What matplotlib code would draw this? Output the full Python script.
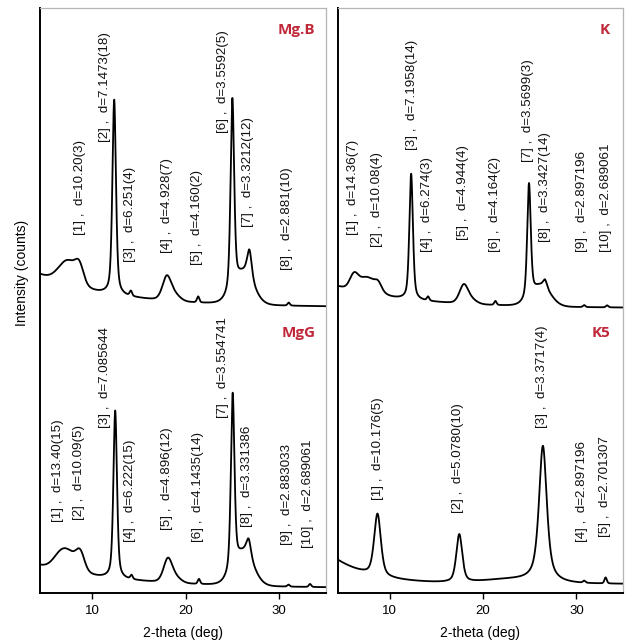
import numpy as np
import matplotlib
matplotlib.use("Agg")
import matplotlib.pyplot as plt

plt.rcParams['font.family'] = ['Liberation Sans', 'DejaVu Sans']

WAVELENGTH = 1.5406  # Cu K-alpha, angstrom

# ---- Mg.B -------------------------------------------------------------
mgb_d = ["10.20(3)", "7.1473(18)", "6.251(4)", "4.928(7)", "4.160(2)",
         "3.5592(5)", "3.3212(12)", "2.881(10)"]
mgb_height = [14, 195, 5, 23, 6, 191, 29, 3]
mgb_fwhm = [1.0, 0.45, 0.3, 1.1, 0.3, 0.45, 0.6, 0.3]
mgb_eta = [0.0, 0.5, 0.3, 0.3, 0.3, 0.5, 0.6, 0.3]
mgb_band_pos = [7.5, 18.8, 26.2]
mgb_band_height = [24, 6, 30]
mgb_band_fwhm = [2.4, 1.4, 2.4]
mgb_background = (286, 33, 8.0)
mgb_label_x = [8.73, 11.40, 14.08, 18.03, 21.24, 24.02, 26.70, 30.87]
mgb_label_y = [358, 451, 331, 340, 328, 460, 366, 323]

# ---- MgG --------------------------------------------------------------
mgg_d = ["13.40(15)", "10.09(5)", "7.085644", "6.222(15)", "4.896(12)",
         "4.1435(14)", "3.554741", "3.331386", "2.883033", "2.689061"]
mgg_height = [8, 14, 168, 4, 23, 5, 176, 18, 2, 3]
mgg_fwhm = [1.8, 1.0, 0.45, 0.3, 1.1, 0.3, 0.45, 0.6, 0.3, 0.3]
mgg_eta = [0.0, 0.0, 0.5, 0.3, 0.3, 0.3, 0.5, 0.6, 0.3, 0.3]
mgg_band_pos = [7.6, 18.9, 26.2]
mgg_band_height = [18, 5, 32]
mgg_band_fwhm = [2.5, 1.4, 2.4]
mgg_background = (5, 23, 9.0)
mgg_label_x = [6.38, 8.62, 11.40, 14.08, 18.03, 21.35, 24.02, 26.59, 30.87, 33.11]
mgg_label_y = [71, 73, 165, 51, 63, 51, 175, 66, 48, 45]

# ---- K ----------------------------------------------------------------
k_d = ["14.36(7)", "10.08(4)", "7.1958(14)", "6.274(3)", "4.944(4)",
       "4.164(2)", "3.5699(3)", "3.3427(14)", "2.897196", "2.689061"]
k_height = [12, 6, 126, 4, 18, 4, 114, 8, 2, 2]
k_fwhm = [1.0, 0.8, 0.45, 0.3, 1.1, 0.3, 0.45, 0.5, 0.3, 0.3]
k_eta = [0.0, 0.0, 0.5, 0.3, 0.3, 0.3, 0.5, 0.6, 0.3, 0.3]
k_band_pos = [7.6, 18.7, 26.2]
k_band_height = [16, 4, 20]
k_band_fwhm = [2.4, 1.4, 2.4]
k_background = (285, 22, 8.0)
k_label_x = [6.05, 8.62, 12.36, 13.97, 17.82, 21.24, 24.77, 26.59, 30.65, 33.22]
k_label_y = [358, 346, 443, 341, 353, 341, 431, 351, 341, 341]

# ---- K5 ---------------------------------------------------------------
k5_d = ["10.176(5)", "5.0780(10)", "3.3717(4)", "2.897196", "2.701307"]
k5_height = [62, 48, 136, 2, 6]
k5_fwhm = [0.85, 0.75, 1.0, 0.3, 0.3]
k5_eta = [0.5, 0.5, 0.7, 0.3, 0.3]
k5_band_pos = [23.0]
k5_band_height = [4]
k5_band_fwhm = [7.0]
k5_background = (9, 24, 4.0)
k5_label_x = [8.73, 17.28, 26.37, 30.65, 33.11]
k5_label_y = [93, 80, 165, 51, 56]

x_min, x_max = 4.45, 35.0
two_theta = np.linspace(x_min, x_max, 4000)


def d_to_2theta(d_text):
    d = float(d_text.split("(")[0])
    return 2 * np.degrees(np.arcsin(WAVELENGTH / (2 * d)))


def pseudo_voigt(x, x0, h, fwhm, eta):
    g = np.exp(-4 * np.log(2) * ((x - x0) / fwhm) ** 2)
    l = 1 / (1 + ((x - x0) / (fwhm / 2)) ** 2)
    return h * (eta * l + (1 - eta) * g)


def pattern(d_list, heights, fwhms, etas, band_pos, band_h, band_w, bg):
    base, amp, tau = bg
    y = base + amp * np.exp(-(two_theta - x_min) / tau)
    for d, h, w, e in zip(d_list, heights, fwhms, etas):
        y += pseudo_voigt(two_theta, d_to_2theta(d), h, w, e)
    for p, h, w in zip(band_pos, band_h, band_w):
        y += pseudo_voigt(two_theta, p, h, w, 0.0)
    return y


def label_peaks(ax, d_list, xs, ys):
    for i, (d, x, y) in enumerate(zip(d_list, xs, ys)):
        ax.text(x, y, f"[{i + 1}] ,  d={d}", rotation=90, ha="center",
                va="bottom", fontsize=9.6, color="#111111")


def style_axes(ax):
    ax.set_xlim(x_min, x_max)
    ax.set_ylim(0, 585)
    ax.set_yticks([])
    ax.set_xticks([10, 20, 30])
    ax.tick_params(axis="x", direction="out", length=4, width=1,
                   labelsize=9.5, pad=5)
    for side in ("left", "bottom"):
        ax.spines[side].set_color("black")
        ax.spines[side].set_linewidth(1.4)
    for side in ("top", "right"):
        ax.spines[side].set_color("#b5b5b5")
        ax.spines[side].set_linewidth(0.9)
    ax.set_xlabel("2-theta (deg)", fontsize=10, labelpad=6)


def tag(ax, text, x, y):
    ax.text(x, y, text, transform=ax.transAxes, ha="right", va="center",
            fontsize=11, fontweight="bold", color="#c0283a",
            family=["Open Sans", "DejaVu Sans"])


fig = plt.figure(figsize=(6.26, 6.43), dpi=100)
ax_l = fig.add_axes([40 / 626, 50 / 643, 286 / 626, 585 / 643])
ax_r = fig.add_axes([338 / 626, 50 / 643, 285 / 626, 585 / 643])

# left column: Mg.B on top of MgG
ax_l.plot(two_theta, pattern(mgb_d, mgb_height, mgb_fwhm, mgb_eta, mgb_band_pos,
                             mgb_band_height, mgb_band_fwhm, mgb_background),
          color="black", lw=1.3)
ax_l.plot(two_theta, pattern(mgg_d, mgg_height, mgg_fwhm, mgg_eta, mgg_band_pos,
                             mgg_band_height, mgg_band_fwhm, mgg_background),
          color="black", lw=1.3)
label_peaks(ax_l, mgb_d, mgb_label_x, mgb_label_y)
label_peaks(ax_l, mgg_d, mgg_label_x, mgg_label_y)
tag(ax_l, "Mg.B", 0.962, 0.962)
tag(ax_l, "MgG", 0.962, 0.444)

# right column: K on top of K5
ax_r.plot(two_theta, pattern(k_d, k_height, k_fwhm, k_eta, k_band_pos,
                             k_band_height, k_band_fwhm, k_background),
          color="black", lw=1.3)
ax_r.plot(two_theta, pattern(k5_d, k5_height, k5_fwhm, k5_eta, k5_band_pos,
                             k5_band_height, k5_band_fwhm, k5_background),
          color="black", lw=1.3)
label_peaks(ax_r, k_d, k_label_x, k_label_y)
label_peaks(ax_r, k5_d, k5_label_x, k5_label_y)
tag(ax_r, "K", 0.954, 0.962)
tag(ax_r, "K5", 0.954, 0.444)

style_axes(ax_l)
style_axes(ax_r)

fig.text(22 / 626, 1 - 273 / 643, "Intensity (counts)", rotation=90,
         ha="center", va="center", fontsize=10)

fig.savefig("out.png", dpi=100)
